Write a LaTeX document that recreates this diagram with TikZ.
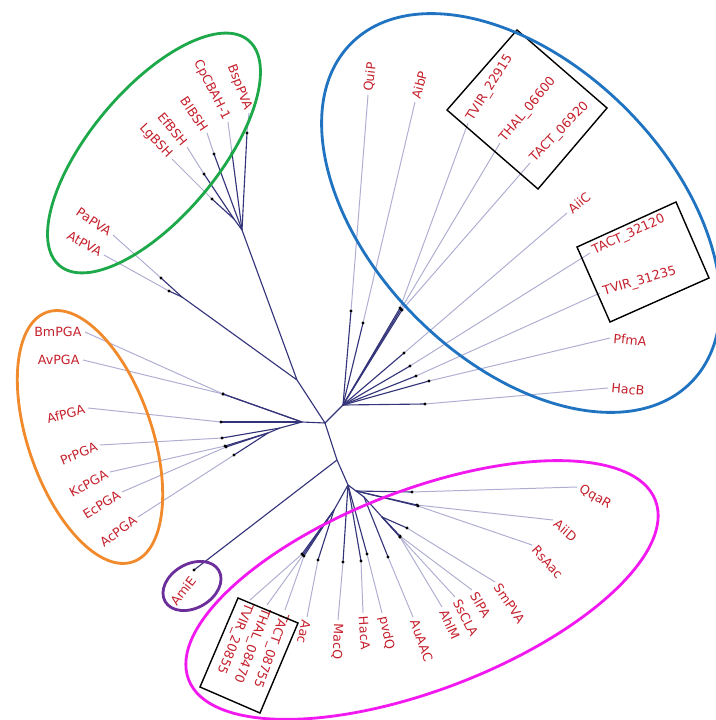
\documentclass[tikz,border=0pt]{standalone}
\usepackage{fontspec}
\setmainfont{DejaVu Sans}
\usetikzlibrary{calc}
\definecolor{brn}{HTML}{34347A}
\definecolor{twg}{HTML}{AEAED2}
\definecolor{lblred}{HTML}{C4202C}
\definecolor{grpgreen}{HTML}{1DA84A}
\definecolor{grpblue}{HTML}{1F73C0}
\definecolor{grporange}{HTML}{F08A2C}
\definecolor{grppurple}{HTML}{6B2E9B}
\definecolor{grppink}{HTML}{F218F0}
\tikzset{
  branch/.style={draw=brn, line width=0.8pt},
  twig/.style={draw=twg, line width=0.7pt},
  lbl/.style={text=lblred, font=\fontsize{9}{10}\selectfont, inner sep=2.2pt},
  clade/.style={line width=2pt},
  idbox/.style={draw=black, line width=1pt}
}
% #1 parent, #2 name, #3 dot, #4 tip, #5 anchor, #6 angle, #7 label
\newcommand{\taxon}[7]{%
  \coordinate (#2) at #3;
  \coordinate (#2t) at #4;
  \draw[branch] (#1) -- (#2);
  \draw[twig] (#2) -- (#2t) node[lbl,anchor=#5,rotate=#6] {#7};
  \fill (#2) circle[radius=1.6];
}

\begin{document}
\begin{tikzpicture}[x=0.025cm,y=-0.025cm]
\useasboundingbox (0,0) rectangle (715,720);
% inner nodes of the tree
\coordinate (ctr) at (325,423);
\coordinate (pga) at (302,422);
\coordinate (pgaA) at (280,428);
\coordinate (pgaB) at (268,433);
\coordinate (grn) at (297,380);
\coordinate (pva) at (182,297);
\coordinate (bsh) at (242,230);
\coordinate (bshA) at (234,219);
\coordinate (blu) at (343,405);
\coordinate (ami) at (337,460);
\coordinate (pnk) at (348,485);
\coordinate (pq) at (356,491);
\coordinate (ps) at (364,497);
\coordinate (pt) at (382,517);
\coordinate (pa) at (334,510);
\draw[branch] (pga) -- (ctr) -- (grn) -- (bsh) (ctr) -- (blu) (ctr) -- (ami) -- (pnk)
  (grn) -- (pva) (pga) -- (pgaA) -- (pgaB) (bsh) -- (bshA)
  (pnk) -- (pq) (pnk) -- (ps) -- (pt) (pnk) -- (pa);

% green clade
\taxon{bsh}{bsp}{(247,133)}{(249,113)}{east}{-69}{BspPVA}
\taxon{bsh}{cpc}{(232,153)}{(228,122)}{east}{-63}{CpCBAH-1}
\taxon{bsh}{blb}{(214,154)}{(207,133)}{east}{-56}{BlBSH}
\taxon{bshA}{efb}{(204,174)}{(187,147)}{east}{-51}{EfBSH}
\taxon{bshA}{lgb}{(212,199)}{(172,159)}{east}{-47}{LgBSH}
\taxon{pva}{pap}{(161,278)}{(113,235)}{east}{-34}{PaPVA}
\taxon{pva}{atp}{(169,291)}{(104,255)}{east}{-30}{AtPVA}

% blue clade
\taxon{blu}{qui}{(351,311)}{(368,95)}{west}{83}{QuiP}
\taxon{blu}{aib}{(363,323)}{(415,102)}{west}{75}{AibP}
\taxon{blu}{tvA}{(400,308)}{(468,123)}{west}{58}{TVIR\_22915}
\taxon{blu}{thA}{(401,309)}{(500,143)}{west}{50}{THAL\_06600}
\taxon{blu}{taA}{(402,310)}{(530,163)}{west}{46}{TACT\_06920}
\taxon{blu}{aic}{(404,353)}{(567,213)}{west}{40}{AiiC}
\taxon{blu}{taB}{(410,366)}{(590,253)}{west}{25}{TACT\_32120}
\taxon{blu}{tvB}{(416,376)}{(600,293)}{west}{16}{TVIR\_31235}
\taxon{blu}{pfm}{(429,381)}{(610,338)}{west}{-5}{PfmA}
\taxon{blu}{hcb}{(425,404)}{(608,388)}{west}{-5}{HacB}

% orange clade
\taxon{pga}{bmp}{(223,394)}{(85,332)}{east}{0}{BmPGA}
\taxon{pga}{avp}{(223,394)}{(83,360)}{east}{0}{AvPGA}
\taxon{pga}{afp}{(221,422)}{(88,408)}{east}{15}{AfPGA}
\taxon{pgaA}{prp}{(222,438)}{(100,445)}{east}{22}{PrPGA}
\taxon{pgaB}{kcp}{(225,446)}{(110,472)}{east}{28}{KcPGA}
\taxon{pgaB}{ecp}{(226,447)}{(122,492)}{east}{32}{EcPGA}
\taxon{pgaB}{acp}{(234,455)}{(138,517)}{east}{36}{AcPGA}

% AmiE
\coordinate (amie) at (194,570);
\draw[branch] (ami) -- (amie);
\fill (amie) circle[radius=1.6];
\node[lbl,rotate=52] (amielbl) at (183,591) {AmiE};

% pink clade
\taxon{pq}{qqa}{(412,492)}{(577,487)}{west}{-30}{QqaR}
\taxon{pq}{aid}{(417,505)}{(553,520)}{west}{-40}{AiiD}
\taxon{pq}{rsa}{(418,506)}{(532,545)}{west}{-48}{RsAac}
\taxon{pt}{smp}{(407,528)}{(495,582)}{west}{-56}{SmPVA}
\taxon{pt}{slp}{(400,536)}{(472,590)}{west}{-60}{SlPA}
\taxon{pt}{ssc}{(400,537)}{(455,597)}{west}{-63}{SsCLA}
\taxon{pt}{ahl}{(400,537)}{(442,607)}{west}{-66}{AhlM}
\taxon{ps}{aua}{(388,557)}{(413,617)}{west}{-70}{AuAAC}
\taxon{pnk}{pvd}{(367,554)}{(382,613)}{west}{-78}{pvdQ}
\taxon{pnk}{hca}{(361,561)}{(363,613)}{west}{-86}{HacA}
\taxon{pnk}{mac}{(343,562)}{(338,620)}{west}{-92}{MacQ}
\taxon{pa}{aac}{(318,560)}{(307,617)}{west}{-102}{Aac}
\taxon{pa}{tvC}{(302,554)}{(250,600)}{west}{-112}{TVIR\_20855}
\taxon{pa}{thC}{(303,555)}{(267,605)}{west}{-111}{THAL\_08470}
\taxon{pa}{taC}{(304,556)}{(285,610)}{west}{-110}{TACT\_08755}

% boxes round the T. genes
\draw[idbox] (447,110) -- (517,30) -- (607,108) -- (538,189) -- cycle;
\draw[idbox] (577,247) -- (676,202) -- (709,278) -- (610,322) -- cycle;
\draw[idbox] (238,598) -- (298,623) -- (260,713) -- (200,687) -- cycle;

% clade ellipses
\draw[clade,draw=grpgreen,rotate around={50:(154,153)}] (154,153) ellipse [x radius=147,y radius=64];
\draw[clade,draw=grpblue,rotate around={-45:(521,213)}] (521,213) ellipse [x radius=240,y radius=148];
\draw[clade,draw=grporange,rotate around={-71:(90,437)}] (90,437) ellipse [x radius=132,y radius=62];
\draw[clade,draw=grppurple,rotate around={30:(192,586)}] (192,586) ellipse [x radius=31,y radius=22];
\draw[clade,draw=grppink,rotate around={21:(422,590)}] (422,590) ellipse [x radius=250,y radius=100];
\end{tikzpicture}
\end{document}
